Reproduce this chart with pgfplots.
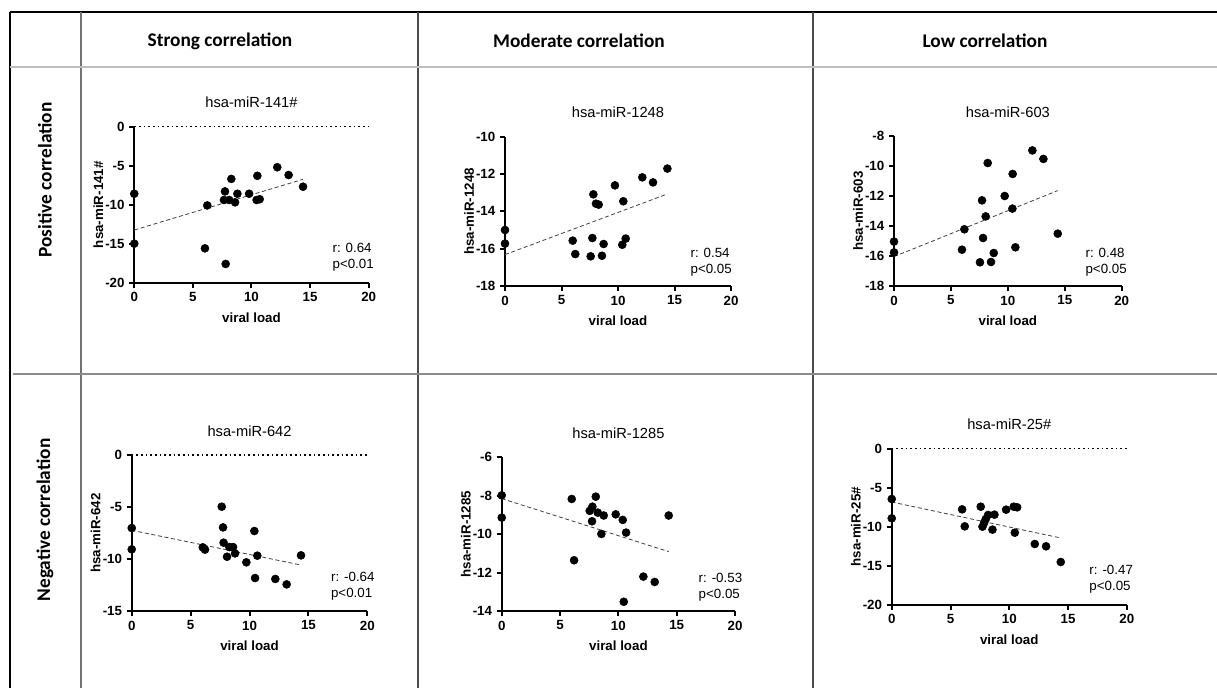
\documentclass[border=0pt]{standalone}
\usepackage{fontspec}
\setmainfont{Liberation Sans}
\newfontfamily\calfont{Carlito}
\usepackage{pgfplots}
\pgfplotsset{compat=1.18}

\pgfplotsset{
  every axis title shift=0pt,
  gp/.style={
    scale only axis, anchor=south west, clip=false,
    axis lines=left, axis line style={line width=1.5pt,-},
    xmin=0, xmax=20, xtick={0,5,10,15,20},
    tick align=outside, major tick length=3.75pt,
    tick style={line width=1.5pt, black},
    /pgf/number format/assume math mode=true,
    tick label style={font=\bfseries\fontsize{10}{12}\selectfont},
    label style={font=\bfseries\fontsize{10}{12}\selectfont},
    xlabel={viral load},
    xlabel style={at={(axis description cs:0.5,0)}, anchor=center, yshift=-26pt},
    ylabel style={at={(axis description cs:0,0.5)}, anchor=center, yshift=27pt},
    title style={at={(axis description cs:0.5,1)}, anchor=center, yshift=18pt,
      font=\fontsize{11}{13}\selectfont},
  },
  pts/.style={only marks, mark=*, mark size=3pt, black},
  fit/.style={densely dashed, line width=0.6pt, black!75},
  zero/.style={line width=1.2pt, dash pattern=on 1.2pt off 2.3pt, black},
}
\newcommand{\stat}[3]{\node[anchor=west, align=left, font=\fontsize{10}{12}\selectfont, inner sep=0pt] at (axis cs:#1) {r: #2\\p#3};}

\begin{document}
\begin{tikzpicture}[x=0.75pt, y=-0.75pt]
\path[use as bounding box] (0,0) rectangle (1217,688);

% table rules
\draw[line width=1.5pt, black] (10,12) -- (1217,12);
\draw[line width=1.5pt, black] (10,12) -- (10,688);
\draw[line width=1.5pt, black!55] (81,12) -- (81,688);
\draw[line width=0.8pt, black!70] (418,12) -- (418,688);
\draw[line width=0.8pt, black!70] (813,12) -- (813,688);
\draw[line width=1.5pt, black!25] (10,67) -- (1217,67);
\draw[line width=1.5pt, black!45] (13,374) -- (1217,374);

% headers
\node[font=\calfont\bfseries\fontsize{14.5}{16}\selectfont] at (220,41) {Strong correlation};
\node[font=\calfont\bfseries\fontsize{14.5}{16}\selectfont] at (579,41) {Moderate correlation};
\node[font=\calfont\bfseries\fontsize{14.5}{16}\selectfont] at (985,41) {Low correlation};
\node[rotate=90, font=\calfont\bfseries\fontsize{14.5}{16}\selectfont] at (45,180) {Positive correlation};
\node[rotate=90, font=\calfont\bfseries\fontsize{14.5}{16}\selectfont] at (45,520) {Negative correlation};

% strong, positive
\begin{axis}[gp, at={(100.7pt,-212.0pt)}, width=175.8pt, height=117pt,
  ymin=-20, ymax=0, ytick={-20,-15,-10,-5,0},
  title={hsa-miR-141\#}, ylabel={hsa-miR-141\#}]
\addplot[zero] coordinates {(0,0) (20,0)};
\addplot[fit] coordinates {(0,-13.25) (14.4,-6.75)};
\addplot[pts] coordinates {
  (0,-8.6) (0,-15.0) (6.03,-15.6) (6.23,-10.1) (7.8,-17.6) (7.74,-8.3)
  (7.65,-9.4) (8.1,-9.4) (8.28,-6.7) (8.6,-9.7) (8.8,-8.6) (9.8,-8.6)
  (10.5,-6.3) (10.44,-9.4) (10.7,-9.3) (12.2,-5.2) (13.17,-6.2) (14.4,-7.7)};
\stat{16.9,-16.75}{0.64}{<0.01}
\end{axis}

% moderate, positive
\begin{axis}[gp, at={(378.75pt,-214.5pt)}, width=169.5pt, height=112pt,
  ymin=-18, ymax=-10, ytick={-18,-16,-14,-12,-10},
  title={hsa-miR-1248}, ylabel={hsa-miR-1248}]
\addplot[fit] coordinates {(0,-16.32) (14.37,-13.07)};
\addplot[pts] coordinates {
  (0,-15.0) (0,-15.73) (5.99,-15.57) (6.22,-16.29) (7.58,-16.41) (7.73,-15.43)
  (7.82,-13.09) (8.05,-13.59) (8.29,-13.64) (8.58,-16.38) (8.73,-15.75) (9.73,-12.61)
  (10.38,-15.79) (10.47,-13.46) (10.68,-15.46) (12.15,-12.18) (13.1,-12.45) (14.37,-11.71)};
\stat{16.4,-16.7}{0.54}{<0.05}
\end{axis}

% low, positive
\begin{axis}[gp, at={(670.5pt,-214.5pt)}, width=170.8pt, height=112.5pt,
  ymin=-18, ymax=-8, ytick={-18,-16,-14,-12,-10,-8},
  title={hsa-miR-603}, ylabel={hsa-miR-603}]
\addplot[fit] coordinates {(0,-16.04) (14.38,-11.64)};
\addplot[pts] coordinates {
  (0,-15.04) (0,-15.76) (5.97,-15.58) (6.18,-14.22) (7.55,-16.42) (7.73,-12.29)
  (7.82,-14.8) (8.05,-13.36) (8.23,-9.8) (8.52,-16.4) (8.76,-15.8) (9.72,-12.0)
  (10.4,-12.84) (10.42,-10.53) (10.66,-15.42) (12.15,-8.96) (13.12,-9.53) (14.38,-14.51)};
\stat{16.8,-16.4}{0.48}{<0.05}
\end{axis}

% strong, negative
\begin{axis}[gp, at={(98.8pt,-458.25pt)}, width=176.7pt, height=117pt,
  ymin=-15, ymax=0, ytick={-15,-10,-5,0},
  title={hsa-miR-642}, ylabel={hsa-miR-642}]
\addplot[zero] coordinates {(0,0) (20,0)};
\addplot[fit] coordinates {(0,-7.24) (14.37,-10.58)};
\addplot[pts] coordinates {
  (0,-7.02) (0,-9.07) (6.03,-8.88) (6.22,-9.1) (7.64,-4.97) (7.75,-6.96)
  (7.8,-8.43) (8.09,-9.78) (8.29,-8.85) (8.6,-8.85) (8.77,-9.46) (9.73,-10.32)
  (10.41,-7.31) (10.47,-11.83) (10.66,-9.68) (12.19,-11.92) (13.15,-12.44) (14.37,-9.65)};
\stat{16.9,-12.6}{-0.64}{<0.01}
\end{axis}

% moderate, negative
\begin{axis}[gp, at={(376.3pt,-458.25pt)}, width=175pt, height=115.3pt,
  ymin=-14, ymax=-6, ytick={-14,-12,-10,-8,-6},
  title={hsa-miR-1285}, ylabel={hsa-miR-1285}]
\addplot[fit] coordinates {(0,-8.15) (14.31,-10.91)};
\addplot[pts] coordinates {
  (0,-7.98) (0,-9.14) (6.0,-8.17) (6.2,-11.36) (7.54,-8.79) (7.77,-8.57)
  (7.74,-9.33) (8.06,-8.05) (8.23,-8.88) (8.54,-9.99) (8.74,-9.03) (9.77,-8.97)
  (10.37,-9.26) (10.46,-13.52) (10.66,-9.92) (12.14,-12.21) (13.11,-12.49) (14.31,-9.03)};
\stat{16.86,-12.75}{-0.53}{<0.05}
\end{axis}

% low, negative
\begin{axis}[gp, at={(668.8pt,-453.5pt)}, width=176.3pt, height=117pt,
  ymin=-20, ymax=0, ytick={-20,-15,-10,-5,0},
  title={hsa-miR-25\#}, ylabel={hsa-miR-25\#}]
\addplot[zero] coordinates {(0,0) (20,0)};
\addplot[fit] coordinates {(0,-6.84) (14.38,-11.45)};
\addplot[pts] coordinates {
  (0,-6.45) (0,-8.93) (5.99,-7.78) (6.21,-9.96) (7.57,-7.44) (7.72,-10.0)
  (7.86,-9.49) (8.0,-9.02) (8.2,-8.5) (8.57,-10.38) (8.74,-8.46) (9.73,-7.82)
  (10.38,-7.44) (10.47,-10.77) (10.67,-7.52) (12.17,-12.22) (13.13,-12.52) (14.38,-14.53)};
\stat{16.8,-16.8}{-0.47}{<0.05}
\end{axis}
\end{tikzpicture}
\end{document}
